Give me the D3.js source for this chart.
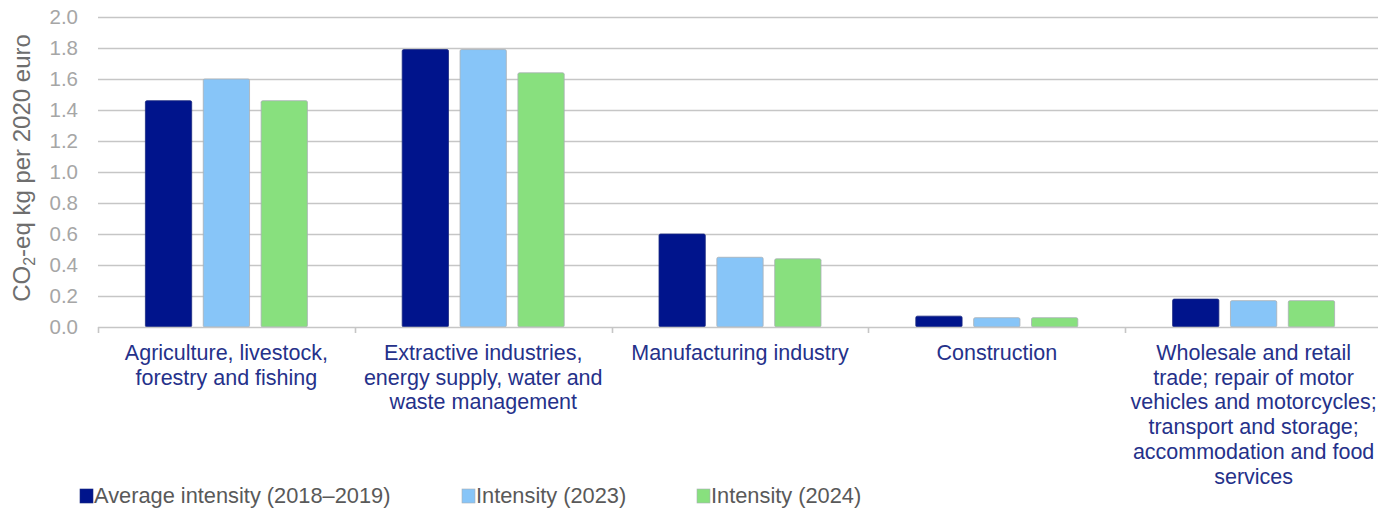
<!DOCTYPE html>
<html>
<head>
<meta charset="utf-8">
<script src="https://cdn.jsdelivr.net/npm/d3@7"></script>
<style>
  html, body { margin: 0; padding: 0; background: #fff; }
  svg { display: block; font-family: "Liberation Sans", Arial, sans-serif; }
</style>
</head>
<body>
<svg id="chart" width="1378" height="508"></svg>
<script>
// Sector categories (each label split into its wrapped lines)
const categories = [
  ["Agriculture, livestock,", "forestry and fishing"],
  ["Extractive industries,", "energy supply, water and", "waste management"],
  ["Manufacturing industry"],
  ["Construction"],
  ["Wholesale and retail", "trade; repair of motor", "vehicles and motorcycles;", "transport and storage;", "accommodation and food", "services"]
];
const seriesNames = ["Average intensity (2018\u20132019)", "Intensity (2023)", "Intensity (2024)"];
const avg2018_2019 = [1.46, 1.79, 0.60, 0.07, 0.18];
const int2023      = [1.60, 1.79, 0.45, 0.06, 0.17];
const int2024      = [1.46, 1.64, 0.44, 0.06, 0.17];
const yTicks = [0, 0.2, 0.4, 0.6, 0.8, 1.0, 1.2, 1.4, 1.6, 1.8, 2.0];
const colors = ["#00148c", "#87c5f8", "#88e07e"];

const series = [avg2018_2019, int2023, int2024];

const svg = d3.select("#chart");
const plotLeft = 98, plotRight = 1382, plotTop = 17, plotBottom = 327;

const x = d3.scaleBand().domain(d3.range(categories.length)).range([plotLeft, plotRight]).padding(0);
const y = d3.scaleLinear().domain([0, 2]).range([plotBottom, plotTop]);
const xInner = d3.scaleBand().domain(d3.range(series.length))
  .range([-81, 81]).paddingInner(0.2).paddingOuter(0);

// horizontal gridlines
svg.append("g").selectAll("line").data(yTicks.filter(d => d > 0)).join("line")
  .attr("x1", plotLeft).attr("x2", plotRight)
  .attr("y1", d => Math.round(y(d)) + 0.5).attr("y2", d => Math.round(y(d)) + 0.5)
  .attr("stroke", "#c6c6c6").attr("stroke-width", 1.6);

// y axis tick labels
svg.append("g").selectAll("text").data(yTicks).join("text")
  .attr("x", 78).attr("y", d => y(d)).attr("dy", "0.36em")
  .attr("text-anchor", "end").attr("font-size", 20.5).attr("fill", "#a6a6a6")
  .text(d => d3.format(".1f")(d));

// y axis title
svg.append("text")
  .attr("transform", "translate(30,168) rotate(-90)")
  .attr("text-anchor", "middle").attr("font-size", 24).attr("fill", "#6e6e6e")
  .call(t => {
    t.append("tspan").text("CO");
    t.append("tspan").attr("font-size", 16).attr("dy", 5).text("2");
    t.append("tspan").attr("dy", -5).text("-eq kg per 2020 euro");
  });

// bars
const groups = svg.append("g").selectAll("g").data(categories).join("g")
  .attr("transform", (d, i) => `translate(${x(i) + x.bandwidth() / 2},0)`);
groups.selectAll("rect").data((d, i) => series.map((s, k) => ({k, v: s[i]}))).join("rect")
  .attr("x", d => xInner(d.k))
  .attr("width", xInner.bandwidth())
  .attr("y", d => y(d.v))
  .attr("height", d => y(0) - y(d.v))
  .attr("rx", 1.5)
  .attr("fill", d => colors[d.k])
  .attr("stroke", d => d.k === 0 ? "#1a2a80" : "#a9b0b5")
  .attr("stroke-width", 0.8);

// category axis
const axisG = svg.append("g");
axisG.append("line").attr("x1", plotLeft).attr("x2", plotRight)
  .attr("y1", plotBottom + 0.5).attr("y2", plotBottom + 0.5)
  .attr("stroke", "#c6c6c6").attr("stroke-width", 1.6);
axisG.selectAll("line.tick").data(d3.range(categories.length + 1)).join("line")
  .attr("class", "tick")
  .attr("x1", i => Math.round(plotLeft + i * x.bandwidth()) + 0.5)
  .attr("x2", i => Math.round(plotLeft + i * x.bandwidth()) + 0.5)
  .attr("y1", plotBottom).attr("y2", plotBottom + 6)
  .attr("stroke", "#c6c6c6").attr("stroke-width", 1.6);

// category labels
svg.append("g").selectAll("text").data(categories).join("text")
  .attr("text-anchor", "middle").attr("font-size", 21.5).attr("fill", "#25318a")
  .attr("transform", (d, i) => `translate(${x(i) + x.bandwidth() / 2},360)`)
  .selectAll("tspan").data(d => d).join("tspan")
  .attr("x", 0).attr("y", (d, j) => j * 24.7)
  .text(d => d);

// legend
const legendX = [80, 462, 697];
const leg = svg.append("g").selectAll("g").data(seriesNames).join("g")
  .attr("transform", (d, i) => `translate(${legendX[i]},503)`);
leg.append("rect").attr("x", 0).attr("y", -14).attr("width", 13).attr("height", 14)
  .attr("fill", (d, i) => colors[i]).attr("stroke", (d, i) => i === 0 ? "#1a2a80" : "#a9b0b5").attr("stroke-width", 0.6);
leg.append("text").attr("x", 14)
  .attr("font-size", 21.8).attr("fill", "#595959").text(d => d);
</script>
</body>
</html>
